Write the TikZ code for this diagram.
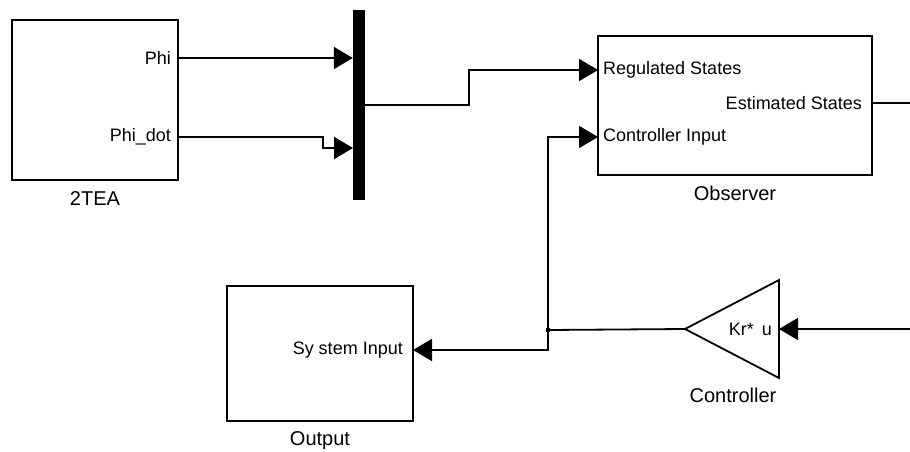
\documentclass[tikz,border=0pt]{standalone}
\usepackage{fontspec}
\setmainfont{Liberation Sans}
\usepackage{tikz}
\usetikzlibrary{positioning, arrows.meta, shapes.geometric}

\begin{document}
\begin{tikzpicture}[
    x=1pt, y=-1pt,
    blk/.style={draw, line width=1.8pt, inner sep=0pt, outer sep=0pt},
    lbl/.style={font=\fontsize{18}{20}\selectfont, inner sep=0pt},
    blkname/.style={font=\fontsize{20}{22}\selectfont, inner sep=0pt},
    arr/.style={-{Triangle[length=19pt, width=22pt]}, line width=1.8pt},
    wire/.style={line width=1.8pt},
    node distance=11pt
]
\useasboundingbox (0,0) rectangle (910,452);

% blocks
\node[blk, minimum width=166pt, minimum height=160pt] (tea) at (95,100) {};
\node[fill=black, inner sep=0pt, minimum width=12pt, minimum height=190pt] (mux) at (359,105) {};
\node[blk, minimum width=274pt, minimum height=139pt] (obs) at (735,105.5) {};
\node[blk, minimum width=186pt, minimum height=135pt] (out) at (320,353.5) {};
\node[blk, isosceles triangle, isosceles triangle stretches, shape border rotate=180,
      minimum width=98pt, minimum height=94pt, anchor=apex] (ctrl) at (685,329) {};

% block names
\node[blkname, below=of tea] (teaName) {2TEA};
\node[blkname, below=of obs] (obsName) {Observer};
\node[blkname, below=10pt of out] (outName) {Output};
\node[blkname] (ctrlName) at (733,395) {Controller};

% port labels
\node[lbl, anchor=east] (phiLbl) at (171,58) {Phi};
\node[lbl, anchor=east] (dotLbl) at (171,137) {Phi\_dot};
\node[lbl, anchor=west] (regLbl) at (603,70) {Regulated States};
\node[lbl, anchor=west] (cinLbl) at (603,137) {Controller Input};
\node[lbl, anchor=east] (estLbl) at (862,103) {Estimated States};
\node[lbl, anchor=east] (sysLbl) at (403,350) {Sy stem Input};
\node[lbl, anchor=east] (gainLbl) at (772,329) {Kr*\hspace{8pt}u};

% junction and free ends
\node[fill=black, inner sep=0pt, minimum size=4pt] (jn) at (548,330) {};
\coordinate (estOut) at (910,103);
\coordinate (refIn) at (910,329);
\coordinate (mux2) at (353,148);

% wires
\draw[arr] (tea.east |- phiLbl) -- (mux.west |- phiLbl);
\draw[arr] (tea.east |- dotLbl) -| ([xshift=-30pt]mux2) -- (mux2);
\draw[arr] (mux.east) -- ++(104,0) |- (obs.west |- regLbl);
\draw[wire] (obs.east |- estLbl) -- (estOut);
\draw[arr] (refIn) -- (ctrl.lower side);
\draw[wire] (ctrl.apex) -- (jn.center);
\draw[arr] (jn.center) |- (obs.west |- cinLbl);
\draw[arr] (jn.center) |- (out.east |- sysLbl);
\end{tikzpicture}
\end{document}
